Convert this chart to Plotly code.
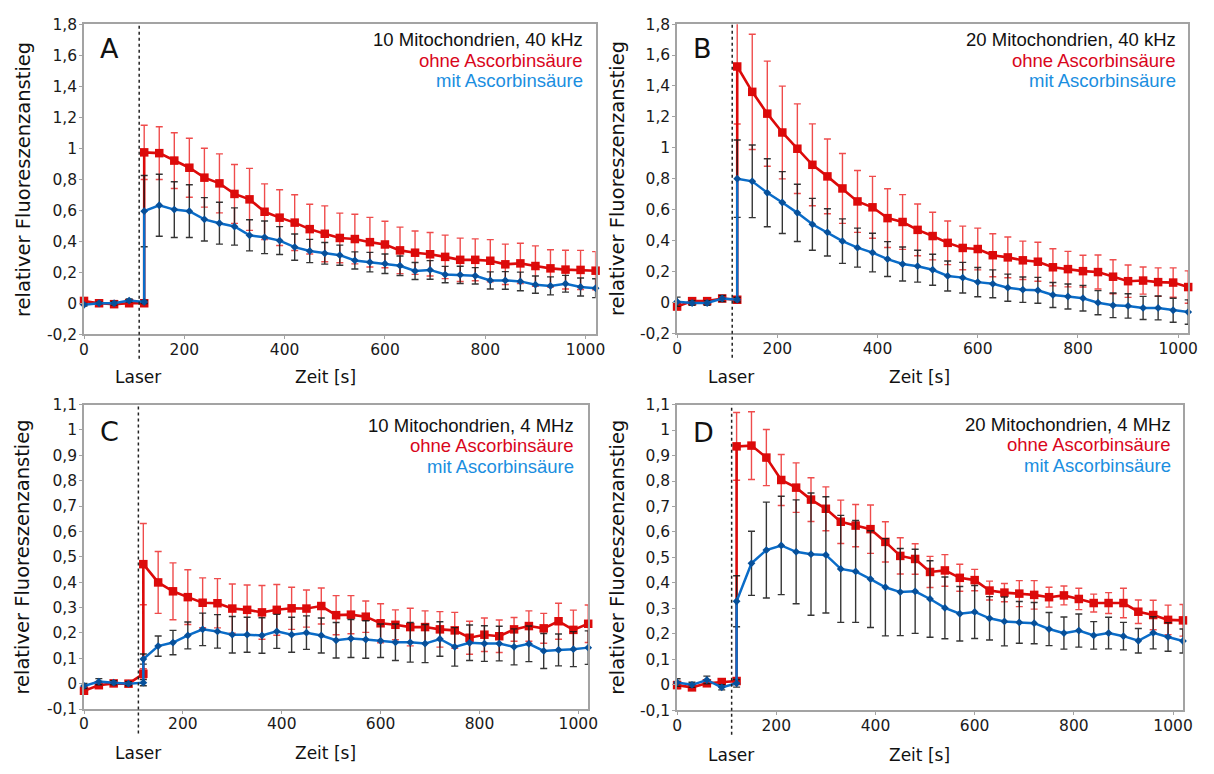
import plotly.graph_objects as go

# Measurement times [s]; the point at 120 s appears twice (before / after the laser pulse)
TIME = [0, 30, 60, 90, 120,
        120, 150, 180, 210, 240, 270, 300, 330, 360, 390, 420, 450, 480, 510, 540,
        570, 600, 630, 660, 690, 720, 750, 780, 810, 840, 870, 900, 930, 960, 990, 1020]
LASER_T = 110

# Panel A: 10 Mitochondrien, 40 kHz
a_ohne = [0.015, 0.0, -0.006, 0.0, 0.0,
          0.973, 0.968, 0.92, 0.874, 0.81, 0.773, 0.705, 0.67, 0.59, 0.552, 0.52, 0.478, 0.448, 0.421, 0.414,
          0.394, 0.379, 0.341, 0.326, 0.316, 0.299, 0.28, 0.28, 0.274, 0.251, 0.257, 0.24, 0.225, 0.217, 0.215, 0.21]
a_ohne_err = [0.01, 0.01, 0.01, 0.01, 0.01,
              0.175, 0.17, 0.18, 0.19, 0.19, 0.19, 0.19, 0.2, 0.18, 0.18, 0.18, 0.16, 0.18, 0.16, 0.16,
              0.16, 0.15, 0.15, 0.14, 0.14, 0.14, 0.14, 0.135, 0.136, 0.13, 0.13, 0.13, 0.12, 0.125, 0.126, 0.123]
a_mit = [-0.01, 0.0, 0.0, 0.017, 0.008,
         0.594, 0.632, 0.604, 0.594, 0.541, 0.516, 0.495, 0.438, 0.425, 0.404, 0.362, 0.337, 0.322, 0.31, 0.276,
         0.265, 0.255, 0.242, 0.208, 0.215, 0.185, 0.183, 0.177, 0.147, 0.147, 0.141, 0.12, 0.112, 0.126, 0.105, 0.097]
a_mit_err = [0.008, 0.006, 0.012, 0.01, 0.01,
             0.23, 0.2, 0.18, 0.17, 0.14, 0.135, 0.12, 0.1, 0.105, 0.09, 0.085, 0.075, 0.07, 0.065, 0.055,
             0.063, 0.063, 0.063, 0.055, 0.06, 0.053, 0.056, 0.053, 0.055, 0.057, 0.06, 0.056, 0.058, 0.054, 0.058, 0.061]

# Panel B: 20 Mitochondrien, 40 kHz
b_ohne = [-0.027, 0.008, 0.008, 0.025, 0.017,
          1.526, 1.362, 1.221, 1.099, 0.994, 0.89, 0.815, 0.737, 0.653, 0.615, 0.545, 0.52,
          0.469, 0.429, 0.385, 0.352, 0.345, 0.305, 0.291, 0.272, 0.263, 0.227, 0.215, 0.202, 0.196,
          0.166, 0.137, 0.141, 0.131, 0.128, 0.099]
b_ohne_err = [0.02, 0.01, 0.01, 0.015, 0.01,
              0.372, 0.373, 0.34, 0.3, 0.29, 0.265, 0.242, 0.226, 0.2, 0.2, 0.19, 0.177,
              0.167, 0.154, 0.141, 0.141, 0.135, 0.139, 0.132, 0.124, 0.126, 0.12, 0.115, 0.103, 0.11,
              0.11, 0.105, 0.088, 0.092, 0.095, 0.105]
b_mit = [0.004, -0.004, -0.004, 0.025, 0.017,
         0.8, 0.783, 0.709, 0.646, 0.579, 0.505, 0.453, 0.396, 0.354, 0.322, 0.28, 0.248,
         0.234, 0.211, 0.171, 0.16, 0.131, 0.12, 0.095, 0.082, 0.078, 0.048, 0.038, 0.027, -0.002,
         -0.019, -0.023, -0.036, -0.036, -0.051, -0.063]
b_mit_err = [0.03, 0.015, 0.015, 0.02, 0.015,
             0.25, 0.235, 0.22, 0.2, 0.185, 0.168, 0.153, 0.144, 0.126, 0.125, 0.113, 0.11,
             0.103, 0.1, 0.097, 0.099, 0.095, 0.09, 0.088, 0.082, 0.084, 0.081, 0.081, 0.083, 0.078,
             0.08, 0.079, 0.075, 0.077, 0.078, 0.079]

# Panel C: 10 Mitochondrien, 4 MHz
c_ohne = [-0.028, -0.006, 0.001, 0.0, 0.039,
          0.471, 0.399, 0.364, 0.341, 0.319, 0.317, 0.296, 0.291, 0.281, 0.291, 0.297, 0.296, 0.306, 0.27, 0.272,
          0.264, 0.238, 0.232, 0.223, 0.223, 0.214, 0.21, 0.181, 0.193, 0.187, 0.214, 0.227, 0.218, 0.246, 0.212, 0.236]
c_ohne_err = [0.012, 0.01, 0.008, 0.008, 0.02,
              0.16, 0.122, 0.112, 0.108, 0.098, 0.097, 0.097, 0.098, 0.106, 0.1, 0.083, 0.073, 0.071, 0.077, 0.075,
              0.062, 0.077, 0.059, 0.074, 0.064, 0.07, 0.071, 0.065, 0.066, 0.064, 0.047, 0.06, 0.059, 0.071, 0.078, 0.074]
c_mit = [-0.009, 0.008, 0.004, 0.0, 0.004,
         0.097, 0.148, 0.162, 0.19, 0.214, 0.206, 0.193, 0.193, 0.19, 0.206, 0.193, 0.201, 0.19, 0.171, 0.178,
         0.174, 0.169, 0.163, 0.163, 0.158, 0.176, 0.145, 0.161, 0.158, 0.158, 0.145, 0.157, 0.129, 0.133, 0.136, 0.142]
c_mit_err = [0.01, 0.012, 0.008, 0.008, 0.012,
             0.02, 0.04, 0.048, 0.053, 0.064, 0.066, 0.072, 0.069, 0.07, 0.067, 0.069, 0.066, 0.069, 0.07, 0.075,
             0.074, 0.066, 0.072, 0.078, 0.075, 0.068, 0.076, 0.07, 0.07, 0.068, 0.071, 0.07, 0.069, 0.063, 0.069, 0.066]

# Panel D: 20 Mitochondrien, 4 MHz
d_ohne = [-0.001, -0.01, 0.006, 0.011, 0.015,
          0.936, 0.939, 0.892, 0.804, 0.774, 0.727, 0.691, 0.64, 0.625, 0.611, 0.561, 0.506, 0.494, 0.443,
          0.449, 0.42, 0.411, 0.37, 0.362, 0.358, 0.353, 0.344, 0.351, 0.337, 0.321, 0.321, 0.321, 0.287, 0.274, 0.255, 0.253]
d_ohne_err = [0.015, 0.01, 0.01, 0.01, 0.01,
              0.133, 0.133, 0.11, 0.1, 0.097, 0.086, 0.086, 0.085, 0.083, 0.095, 0.079, 0.071, 0.06, 0.061,
              0.062, 0.053, 0.042, 0.037, 0.036, 0.051, 0.056, 0.039, 0.037, 0.042, 0.035, 0.041, 0.058, 0.046, 0.058, 0.058, 0.062]
d_mit = [0.009, 0.0, 0.019, -0.01, 0.006,
         0.328, 0.477, 0.529, 0.547, 0.522, 0.513, 0.51, 0.455, 0.445, 0.415, 0.383, 0.364, 0.367, 0.337,
         0.302, 0.279, 0.286, 0.261, 0.249, 0.245, 0.242, 0.219, 0.203, 0.213, 0.194, 0.203, 0.191, 0.173, 0.204, 0.188, 0.172]
d_mit_err = [0.015, 0.01, 0.015, 0.01, 0.015,
             0.1, 0.126, 0.188, 0.193, 0.204, 0.24, 0.228, 0.21, 0.2, 0.19, 0.191, 0.171, 0.165, 0.15,
             0.121, 0.107, 0.104, 0.085, 0.096, 0.082, 0.081, 0.065, 0.063, 0.065, 0.054, 0.062, 0.054, 0.048, 0.063, 0.056, 0.047]

X_TICKS = [0, 200, 400, 600, 800, 1000]
X_TICKTEXT = ["0", "200", "400", "600", "800", "1000"]
Y_TICKS_40K = [-0.2, 0, 0.2, 0.4, 0.6, 0.8, 1.0, 1.2, 1.4, 1.6, 1.8]
Y_TICKTEXT_40K = ["-0,2", "0", "0,2", "0,4", "0,6", "0,8", "1", "1,2", "1,4", "1,6", "1,8"]
Y_TICKS_4M = [-0.1, 0, 0.1, 0.2, 0.3, 0.4, 0.5, 0.6, 0.7, 0.8, 0.9, 1.0, 1.1]
Y_TICKTEXT_4M = ["-0,1", "0", "0,1", "0,2", "0,3", "0,4", "0,5", "0,6", "0,7", "0,8", "0,9", "1", "1,1"]

LETTERS = ["A", "B", "C", "D"]
CONDITIONS = ["10 Mitochondrien, 40 kHz", "20 Mitochondrien, 40 kHz",
              "10 Mitochondrien, 4 MHz", "20 Mitochondrien, 4 MHz"]
LABEL_OHNE = "ohne Ascorbinsäure"
LABEL_MIT = "mit Ascorbinsäure"
Y_TITLE = "relativer Fluoreszenzanstieg"
X_TITLE = "Zeit [s]"
LASER_LABEL = "Laser"

W, H = 1214, 774
RED = "#dc0a0a"
RED_ERR = "rgba(236,45,45,0.85)"
BLUE = "#0a6cc8"
BLUE_MARK = "#07509a"
ERR_DARK = "rgba(25,25,25,0.88)"
AXIS_GRAY = "#a3a3a3"

# Plot-area boxes in pixels: (left, right, top, bottom)
boxes = [(80, 598, 15.5, 333), (680.5, 1198, 15.5, 332),
         (80, 590.5, 405, 716.7), (680.5, 1192.7, 405, 718)]
panels = [
    (a_ohne, a_ohne_err, a_mit, a_mit_err, [-0.2, 1.8], Y_TICKS_40K, Y_TICKTEXT_40K),
    (b_ohne, b_ohne_err, b_mit, b_mit_err, [-0.2, 1.8], Y_TICKS_40K, Y_TICKTEXT_40K),
    (c_ohne, c_ohne_err, c_mit, c_mit_err, [-0.1, 1.1], Y_TICKS_4M, Y_TICKTEXT_4M),
    (d_ohne, d_ohne_err, d_mit, d_mit_err, [-0.1, 1.1], Y_TICKS_4M, Y_TICKTEXT_4M),
]
# (letter center, legend right edge, legend first line y, axis label y, y title x)
text_pos = [
    ((105.5, 40), 587, 31, 377, 18),
    ((706.5, 40), 1188, 31, 377, 620),
    ((105.5, 433), 578, 426, 762, 18),
    ((707.5, 434), 1183, 425, 764, 620),
]

def px(x):
    return x / W

def py(y):
    return 1 - y / H

fig = go.Figure()
layout = dict(
    width=W, height=H, margin=dict(l=0, r=0, t=0, b=0),
    paper_bgcolor="white", plot_bgcolor="white", showlegend=False,
    font=dict(family="DejaVu Sans", color="#1a1a1a"),
)
annotations = []
shapes = []

for i, (ohne, ohne_err, mit, mit_err, yrange, yticks, yticktext) in enumerate(panels):
    n = "" if i == 0 else str(i + 1)
    xa, ya = "x" + n, "y" + n
    left, right, top, bottom = boxes[i]

    fig.add_trace(go.Scatter(
        x=TIME, y=ohne, xaxis=xa, yaxis=ya, mode="lines+markers", cliponaxis=False,
        line=dict(color=RED, width=2.6),
        marker=dict(symbol="square", size=8.5, color=RED),
        error_y=dict(type="data", array=ohne_err, color=RED_ERR, thickness=1.4, width=3.5),
    ))
    fig.add_trace(go.Scatter(
        x=TIME, y=mit, xaxis=xa, yaxis=ya, mode="lines+markers", cliponaxis=False,
        line=dict(color=BLUE, width=2.5),
        marker=dict(symbol="diamond", size=6, color=BLUE_MARK),
        error_y=dict(type="data", array=mit_err, color=ERR_DARK, thickness=1.4, width=3.5),
    ))

    common = dict(showline=True, linecolor=AXIS_GRAY, linewidth=1.5, mirror=True,
                  showgrid=False, zeroline=False, ticks="outside", ticklen=3,
                  tickcolor=AXIS_GRAY, tickfont=dict(family="DejaVu Sans", size=15.5, color="#1a1a1a"))
    layout["xaxis" + n] = dict(common, domain=[px(left), px(right)], range=[0, 1020],
                               anchor=ya, tickvals=X_TICKS, ticktext=X_TICKTEXT,
                               ticklabelstandoff=-3)
    layout["yaxis" + n] = dict(common, domain=[py(bottom), py(top)], range=yrange,
                               anchor=xa, tickvals=yticks, ticktext=yticktext,
                               ticklabelstandoff=-1)

    # dotted laser marker, extending below the axis
    shapes.append(dict(type="line", xref=xa, yref="paper", x0=LASER_T, x1=LASER_T,
                       y0=py(bottom + 25), y1=py(top),
                       line=dict(color="#222222", width=1.5, dash="dot")))

    (lx, ly), legx, legy, laby, ytx = text_pos[i]
    annotations.append(dict(text=LETTERS[i], x=px(lx), y=py(ly), xref="paper", yref="paper",
                            showarrow=False, xanchor="center", yanchor="middle",
                            font=dict(family="DejaVu Sans", size=27, color="#111111")))
    for k, (txt, col) in enumerate([(CONDITIONS[i], "#111111"), (LABEL_OHNE, "#d9061c"),
                                     (LABEL_MIT, "#1a8ee0")]):
        annotations.append(dict(text=txt, x=px(legx), y=py(legy + 21.3 * k), xref="paper", yref="paper",
                                showarrow=False, xanchor="right", yanchor="middle",
                                font=dict(family="Liberation Sans", size=18.5, color=col)))
    annotations.append(dict(text=LASER_LABEL, x=px(left + 55), y=py(laby), xref="paper", yref="paper",
                            showarrow=False, xanchor="center", yanchor="middle",
                            font=dict(family="DejaVu Sans", size=17, color="#111111")))
    annotations.append(dict(text=X_TITLE, x=px(left + 245), y=py(laby), xref="paper", yref="paper",
                            showarrow=False, xanchor="center", yanchor="middle",
                            font=dict(family="DejaVu Sans", size=17, color="#111111")))
    annotations.append(dict(text=Y_TITLE, x=px(ytx), y=py((top + bottom) / 2), xref="paper", yref="paper",
                            showarrow=False, xanchor="center", yanchor="middle", textangle=-90,
                            font=dict(family="DejaVu Sans", size=19.5, color="#111111")))

layout["annotations"] = annotations
layout["shapes"] = shapes
fig.update_layout(**layout)
fig.write_html("out.html")
